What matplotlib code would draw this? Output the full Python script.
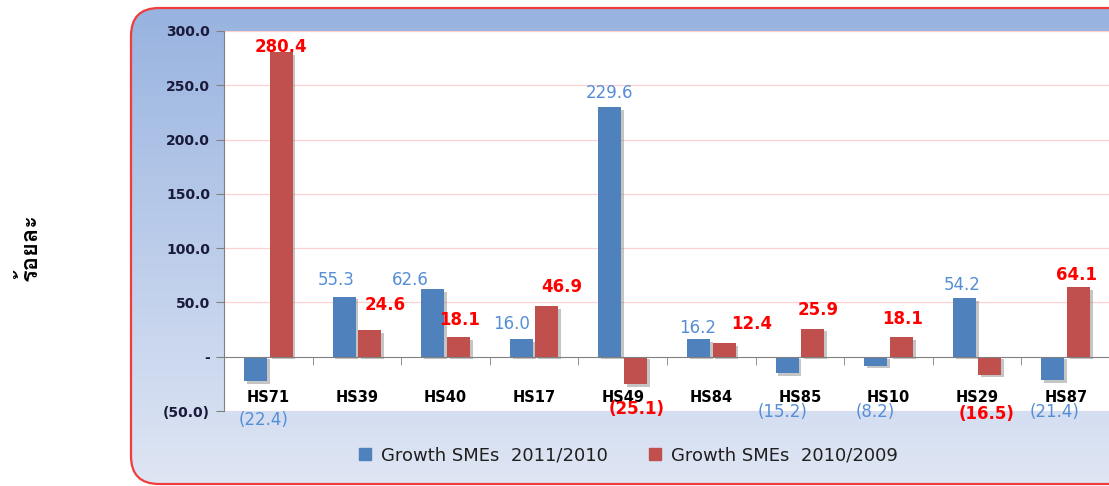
import numpy as np
import matplotlib
matplotlib.use("Agg")
import matplotlib.pyplot as plt
from matplotlib import font_manager
from matplotlib.ft2font import FT2Font
from matplotlib.patches import FancyBboxPatch
from matplotlib.lines import Line2D
import matplotlib.patheffects as pe

# ---------------------------------------------------------------------------
# Data
# ---------------------------------------------------------------------------
categories = ["HS71", "HS39", "HS40", "HS17", "HS49",
              "HS84", "HS85", "HS10", "HS29", "HS87"]
growth_2011 = [-22.4, 55.3, 62.6, 16.0, 229.6, 16.2, -15.2, -8.2, 54.2, -21.4]
growth_2010 = [280.4, 24.6, 18.1, 46.9, -25.1, 12.4, 25.9, 18.1, -16.5, 64.1]
series_names = ["Growth SMEs  2011/2010", "Growth SMEs  2010/2009"]

# label placement (Excel moved them around to avoid overlaps)
blue_lbl_y = [-58.7, 71, 71, 30, 243, 26, -51, -51, 66, -51]
blue_lbl_dx = [8, -8, -22, -10, 0, -1, -4, 0, -2, 2]
red_lbl_y = [285, 48, 34, 64.6, -48.6, 30, 43, 35, -53, 75]
red_lbl_dx = [0, 15, 1, 15, 1, 28, 5, 1, -3, -2]

# ---------------------------------------------------------------------------
# Fonts: find something that can draw Thai
# ---------------------------------------------------------------------------
thai_family = None
for f in font_manager.fontManager.ttflist:
    try:
        if 0x0E23 in FT2Font(f.fname).get_charmap():
            thai_family = f.name
            break
    except Exception:
        pass
plt.rcParams['font.family'] = ['DejaVu Sans']

W, H = 1109, 486
fig = plt.figure(figsize=(W / 100, H / 100), dpi=100)

# ---------------------------------------------------------------------------
# Background frame with gradient
# ---------------------------------------------------------------------------
bg = fig.add_axes([0, 0, 1, 1])
bg.set_xlim(0, W)
bg.set_ylim(H, 0)
bg.axis('off')
frame = FancyBboxPatch((131, 8), 1040, 476, boxstyle="round,pad=0,rounding_size=28",
                       facecolor='none', edgecolor='#F03C3C', linewidth=1.6, zorder=3)
bg.add_patch(frame)
top = np.array([0x98, 0xB3, 0xE0]) / 255
bot = np.array([0xDF, 0xE6, 0xF4]) / 255
t = np.linspace(0, 1, 256)[:, None]
grad = (top[None, :] * (1 - t) + bot[None, :] * t)[:, None, :]
img = bg.imshow(np.repeat(grad, 2, axis=1), extent=(131, 1171, 484, 8),
                aspect='auto', zorder=1, interpolation='bilinear')
img.set_clip_path(frame)

# ---------------------------------------------------------------------------
# Main axes
# ---------------------------------------------------------------------------
ax = fig.add_axes([224 / W, 75 / H, 886 / W, 380 / H])
ax.set_facecolor('white')
x = np.arange(len(categories))
bw = 0.26
off = 0.145

shadow = [pe.SimplePatchShadow(offset=(2, -2), shadow_rgbFace='#7f7f7f', alpha=0.45), pe.Normal()]
b1 = ax.bar(x - off, growth_2011, bw, color='#4F81BD', zorder=3)
b2 = ax.bar(x + off, growth_2010, bw, color='#C0504D', zorder=3)
for b in list(b1) + list(b2):
    b.set_path_effects(shadow)


def fmt(v):
    return f"({abs(v):.1f})" if v < 0 else f"{v:.1f}"


for i, v in enumerate(growth_2011):
    ax.annotate(fmt(v), xy=(x[i] - off, blue_lbl_y[i]), xytext=(blue_lbl_dx[i], 0),
                textcoords='offset pixels', ha='center', va='center',
                fontsize=12, color='#558ED5', zorder=5, annotation_clip=False)
for i, v in enumerate(growth_2010):
    ax.annotate(fmt(v), xy=(x[i] + off, red_lbl_y[i]), xytext=(red_lbl_dx[i], 0),
                textcoords='offset pixels', ha='center', va='center',
                fontsize=12, fontweight='bold', color='#FF0000', zorder=5,
                annotation_clip=False)

ax.set_xlim(-0.5, len(categories) - 0.5)
ax.set_ylim(-50, 300)
yt = np.arange(-50, 301, 50)
ax.set_yticks(yt)
ax.set_yticklabels(["-" if v == 0 else fmt(float(v)) for v in yt],
                   fontsize=10, fontweight='bold', color='#1A1A3A')
for v in yt:
    if v != 0:
        ax.axhline(v, color='#FFD0D0', linewidth=0.9, zorder=1)

for s in ['top', 'right']:
    ax.spines[s].set_visible(False)
ax.spines['left'].set_color('#808080')
ax.spines['bottom'].set_position(('data', 0))
ax.spines['bottom'].set_color('#808080')
ax.spines['bottom'].set_zorder(4)
ax.tick_params(axis='y', length=6, color='#808080', pad=4)

ax.set_xticks(x)
ax.set_xticklabels(categories, fontsize=10.5, fontweight='bold', color='black')
ax.set_xticks(np.arange(0.5, len(categories) - 0.5), minor=True)
ax.tick_params(axis='x', which='major', length=0, pad=24)
ax.tick_params(axis='x', which='minor', length=6, color='#808080', direction='out')

# ---------------------------------------------------------------------------
# Legend and axis title
# ---------------------------------------------------------------------------
handles = [Line2D([], [], marker='s', ls='', markersize=8, color='#4F81BD'),
           Line2D([], [], marker='s', ls='', markersize=8, color='#C0504D')]
fig.legend(handles, series_names, loc='center', bbox_to_anchor=(628 / W, 1 - 455 / H),
           ncol=2, frameon=False, fontsize=13, handlelength=0.8, handletextpad=0.5,
           columnspacing=2.2, labelcolor='#1F1F1F')

ylab_family = [thai_family, 'DejaVu Sans'] if thai_family else ['DejaVu Sans']
fig.text(30 / W, 1 - 247 / H, 'ร้อยละ', rotation=90, ha='center', va='center',
         fontsize=17, fontweight='bold', family=ylab_family)

fig.savefig('out.png', dpi=100)
